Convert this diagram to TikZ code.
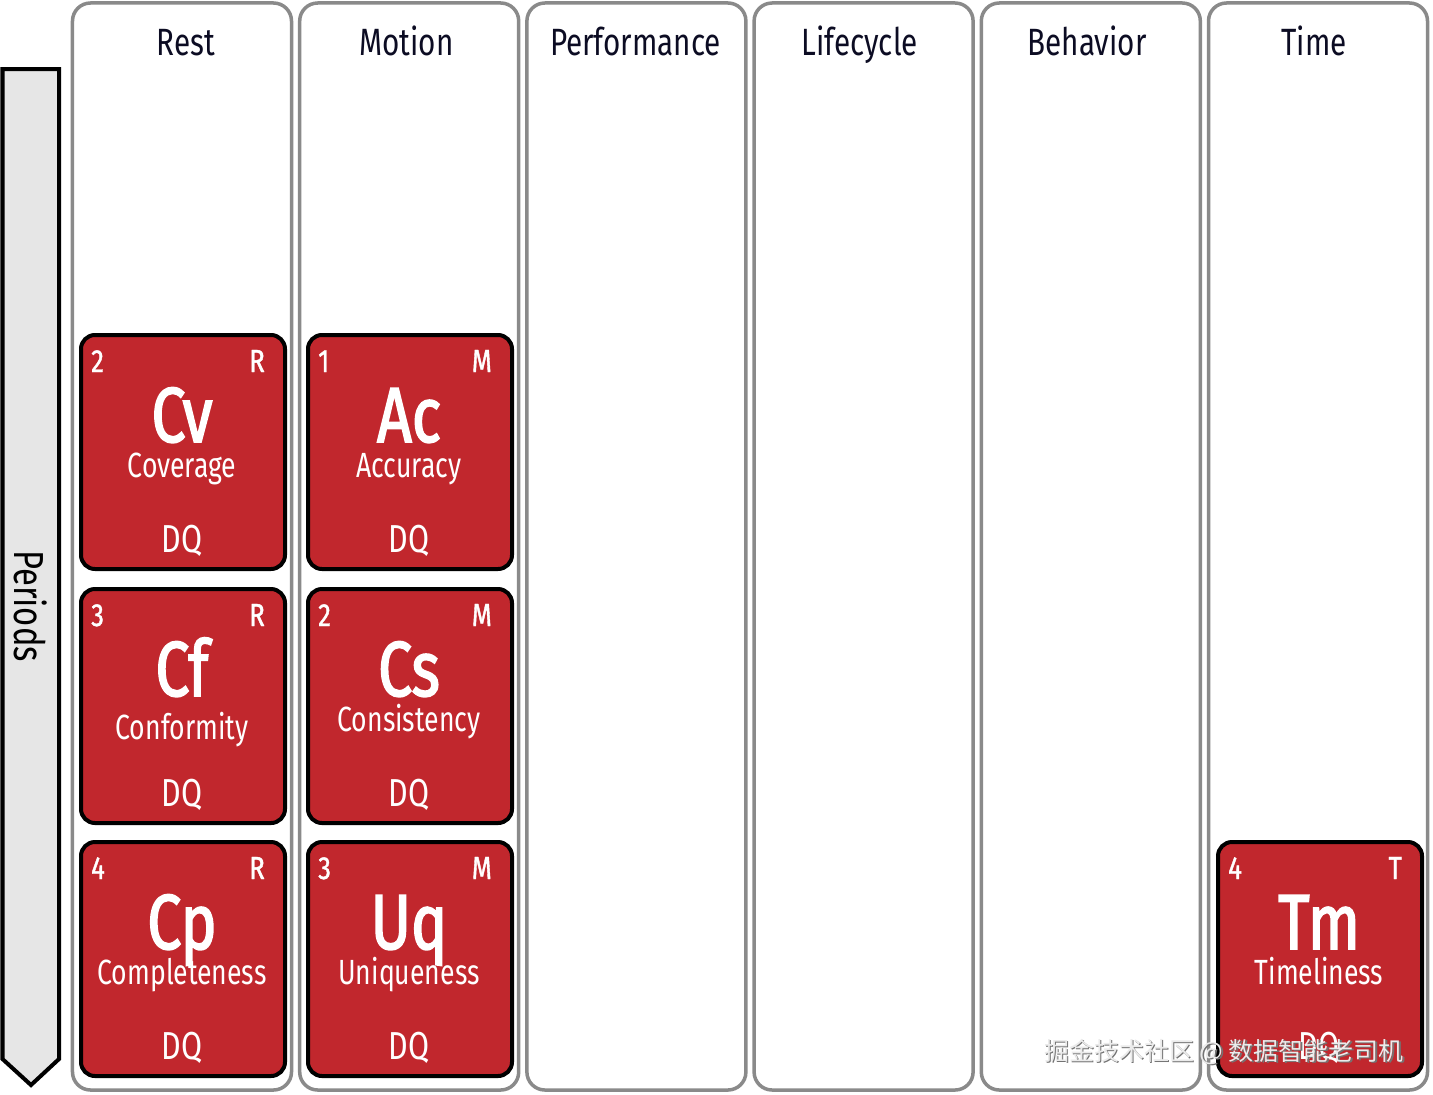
\documentclass[tikz,border=0pt]{standalone}
\usepackage{fontspec}
\setmainfont{Fira Sans}[FakeStretch=0.78]
\newfontfamily\symfont{Fira Sans}[FakeStretch=0.78,FakeBold=2]
\newfontfamily\medfont{Fira Sans}[FakeStretch=0.8,FakeBold=1.2]
\newfontfamily\namefont{Fira Sans}[FakeStretch=0.76]
\newfontfamily\cjkfont{Noto Sans CJK SC}
\definecolor{colgray}{RGB}{138,138,138}
\definecolor{tilered}{RGB}{193,39,45}
\definecolor{navy}{RGB}{12,12,35}
\definecolor{arrowfill}{RGB}{230,230,230}
\tikzset{
  colbox/.style={draw=colgray, line width=3.5bp, rounded corners=18bp, fill=white,
    minimum width=219bp, minimum height=1087bp, inner sep=0},
  hdr/.style={anchor=base, inner sep=0, text=navy, font=\fontsize{38bp}{40bp}\selectfont},
  tilebox/.style={draw=black, line width=4bp, fill=tilered, rounded corners=14bp,
    minimum width=204bp, minimum height=234bp, inner sep=0},
  tsmall/.style={inner sep=0, text=white, font=\medfont\fontsize{32bp}{34bp}\selectfont},
  tsym/.style={inner sep=0, text=white, anchor=base, font=\symfont\fontsize{78bp}{80bp}\selectfont},
  tname/.style={inner sep=0, text=white, anchor=base, font=\namefont\fontsize{35bp}{37bp}\selectfont},
  tdq/.style={inner sep=0, text=white, anchor=base, font=\fontsize{39bp}{41bp}\selectfont},
}
\newcommand\ptile[8]{%
  \node[tilebox] (#1) at (#2,#3) {};
  \node[tsmall, anchor=base west] (#1-num) at (#2-92,#3-80) {#4};
  \node[tsmall, anchor=base east] (#1-grp) at (#2+82,#3-80) {#5};
  \node[tsym] (#1-sym) at (#2-1,#3-10) {#6};
  \node[tname] (#1-name) at (#2-1,#3+25+#8) {#7};
  \node[tdq] (#1-dq) at (#2-1,#3+100) {DQ};
}
\begin{document}
\begin{tikzpicture}[x=1bp,y=-1bp]
\useasboundingbox (0,0) rectangle (1433,1094);
% arrow
\draw[fill=arrowfill, line width=4bp, line join=miter]
  (2.5,69) -- (59,69) -- (59,1059) -- (31,1085) -- (2.5,1059) -- cycle;
\node[rotate=-90, inner sep=0, font=\fontsize{42bp}{44bp}\selectfont] (periods) at (31,606) {Periods};
% columns
\foreach \i/\nm/\lab/\hx in {0/rest/Rest/186,1/motion/Motion/406.5,2/perf/Performance/635.5,3/life/Lifecycle/859.5,4/beh/Behavior/1087,5/time/Time/1314}{
  \pgfmathsetmacro\cx{182+227.2*\i}
  \node[colbox] (\nm) at (\cx,546.5) {};
  \node[hdr] (\nm-hdr) at (\hx,55) {\lab};
}
% tiles
\ptile{cv}{183}{452}{2}{R}{Cv}{Coverage}{0}
\ptile{cf}{183}{706}{3}{R}{Cf}{Conformity}{8}
\ptile{cp}{183}{959}{4}{R}{Cp}{Completeness}{0}
\ptile{ac}{410}{452}{1}{M}{Ac}{Accuracy}{0}
\ptile{cs}{410}{706}{2}{M}{Cs}{Consistency}{0}
\ptile{uq}{410}{959}{3}{M}{Uq}{Uniqueness}{0}
\ptile{tm}{1320}{959}{4}{T}{Tm}{Timeliness}{0}
% watermark
\node[inner sep=0, anchor=base, text=black!55, font=\cjkfont\fontsize{25bp}{27bp}\selectfont] (wm-shadow) at (1225.5,1061.5) {掘金技术社区 @ 数据智能老司机};
\node[inner sep=0, anchor=base, text=white!92!black, font=\cjkfont\fontsize{25bp}{27bp}\selectfont] (wm) at (1224,1060) {掘金技术社区 @ 数据智能老司机};
\end{tikzpicture}
\end{document}
